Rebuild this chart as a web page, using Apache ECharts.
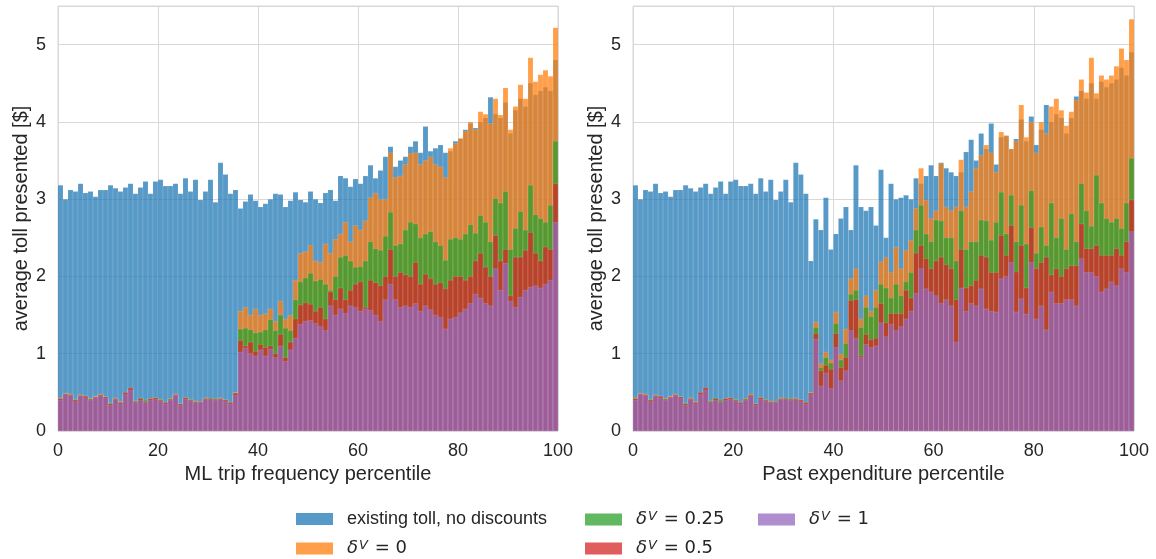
<!DOCTYPE html>
<html><head><meta charset="utf-8">
<script src="https://cdn.jsdelivr.net/npm/echarts/dist/echarts.min.js"></script>
<style>html,body{margin:0;padding:0;background:#fff}#c{width:1156px;height:559px}</style>
</head><body><div id="c"></div><script>
// percentile bins (width 1)
var binStart = Array.from({length: 100}, function (_, i) { return i; });
var xTicks = [0, 20, 40, 60, 80, 100];
var yTicks = [0, 1, 2, 3, 4, 5];
var seriesNames = ['existing toll, no discounts', 'δV = 0', 'δV = 0.25', 'δV = 0.5', 'δV = 1'];

// bins 0-34 (identical in both panels)
var lowBlue   = [3.18,3.0,3.12,3.1,3.2,3.08,3.1,3.03,3.12,3.12,3.18,3.14,3.1,3.15,3.2,3.07,3.15,3.23,3.07,3.23,3.25,3.17,3.17,3.2,3.07,3.27,3.1,3.25,2.99,3.1,3.25,2.96,3.47,3.32,3.07];
var lowOrange = [0.43,0.49,0.48,0.41,0.47,0.45,0.42,0.45,0.48,0.44,0.36,0.43,0.38,0.49,0.55,0.39,0.42,0.39,0.42,0.43,0.41,0.37,0.42,0.48,0.35,0.43,0.41,0.39,0.38,0.43,0.42,0.41,0.43,0.40,0.37];
var lowGreen  = [0.42,0.48,0.47,0.41,0.46,0.45,0.42,0.44,0.47,0.44,0.36,0.42,0.37,0.49,0.55,0.39,0.43,0.40,0.42,0.43,0.41,0.37,0.42,0.47,0.35,0.43,0.41,0.38,0.38,0.42,0.43,0.42,0.42,0.40,0.37];
var lowRed    = [0.42,0.48,0.47,0.40,0.46,0.45,0.41,0.44,0.47,0.44,0.35,0.42,0.37,0.50,0.56,0.38,0.42,0.38,0.42,0.43,0.40,0.37,0.41,0.47,0.35,0.43,0.40,0.38,0.38,0.42,0.42,0.41,0.42,0.40,0.37];
var lowPurple = [0.40,0.47,0.46,0.38,0.45,0.43,0.40,0.43,0.46,0.42,0.33,0.41,0.35,0.47,0.53,0.37,0.40,0.37,0.40,0.41,0.39,0.35,0.40,0.46,0.33,0.41,0.39,0.37,0.37,0.41,0.41,0.40,0.41,0.38,0.35];

// left panel, bins 35-99 (ML trip frequency)
var tripBlueHi   = [3.12,2.88,2.97,3.06,2.98,2.9,2.94,3.0,3.07,3.06, 2.9,2.98,3.09,2.99,2.96,3.1,3.0,2.95,3.08,3.12, 2.98,3.3,3.27,3.16,3.26,3.2,3.3,3.44,3.27,3.37, 3.55,3.68,3.42,3.5,3.55,3.68,3.75,3.6,3.94,3.62, 3.66,3.7,3.6,3.62,3.75,3.78,3.9,3.98,3.92,4.0, 4.05,4.32,4.1,4.05,4.25,3.85,4.15,4.3,4.2,4.5, 4.35,4.4,4.45,4.4,4.8];
var tripOrangeHi = [0.5,1.55,1.6,1.5,1.58,1.5,1.52,1.58,1.42,1.68, 1.45,1.5,1.95,2.3,2.32,2.4,2.2,2.18,2.42,2.3, 2.48,2.55,2.7,2.45,2.66,2.6,2.72,3.02,3.08,3.0, 3.0,3.6,3.28,3.3,3.45,3.59,3.6,3.45,3.5,3.55, 3.45,3.42,3.28,3.66,3.72,3.79,3.88,4.0,3.9,4.13, 4.1,3.98,4.3,4.09,4.44,3.9,4.2,4.48,4.3,4.83, 4.52,4.61,4.67,4.59,5.22];
var tripGreenHi  = [0.49,1.32,1.33,1.31,1.27,1.28,1.31,1.44,1.3,1.5, 1.33,1.3,1.7,1.93,1.98,2.04,1.94,1.96,1.9,1.82, 2.0,2.25,2.27,2.2,2.12,2.13,2.2,2.45,2.36,2.34, 2.52,2.83,2.4,2.42,2.6,2.7,2.68,2.5,2.55,2.58, 2.45,2.4,2.21,2.48,2.5,2.48,2.55,2.67,2.56,2.79, 2.7,2.45,3.01,2.95,3.1,2.35,2.62,2.84,2.6,3.18, 2.8,2.75,2.7,2.92,3.75];
var tripRedHi    = [0.49,1.17,1.1,1.15,1.03,1.12,1.08,1.1,1.0,1.25, 0.95,1.15,1.45,1.63,1.66,1.64,1.55,1.6,1.45,1.8, 1.7,1.85,1.7,1.82,1.9,1.93,1.6,1.95,1.92,1.88, 2.0,2.35,2.0,2.05,2.02,2.0,2.18,1.9,2.03,1.97, 1.9,1.92,1.84,1.95,2.0,2.0,1.95,2.0,2.2,2.3, 2.12,2.0,2.53,2.2,2.35,1.75,2.25,2.25,2.34,2.57, 2.3,2.2,2.38,2.35,3.2];
var tripPurpleHi = [0.46,1.02,1.07,1.0,0.97,1.05,0.97,1.06,0.95,1.1, 0.9,1.05,1.2,1.38,1.42,1.43,1.39,1.35,1.3,1.62, 1.5,1.58,1.52,1.62,1.6,1.55,1.58,1.56,1.5,1.42, 1.7,1.9,1.7,1.6,1.62,1.6,1.65,1.55,1.62,1.57, 1.5,1.47,1.32,1.45,1.47,1.53,1.58,1.65,1.77,1.72, 1.65,1.62,2.1,1.82,2.17,1.68,1.6,1.73,1.82,1.86, 1.88,1.85,1.9,1.95,2.7];

// right panel, bins 35-99 (past expenditure)
var expBlueHi   = [2.2,2.74,2.6,3.02,2.35,2.55,2.75,2.9,2.6,3.44, 2.9,2.85,2.9,2.66,3.38,2.5,3.2,3.0,3.02,3.05, 3.0,3.27,3.2,3.3,3.44,3.3,3.47,3.4,3.35,3.3, 3.35,3.61,3.77,3.5,3.85,3.65,3.98,3.45,3.8,3.82, 3.65,3.78,4.03,3.75,4.07,3.7,3.9,4.22,4.0,4.1, 4.05,3.85,4.05,4.33,4.4,4.3,4.5,4.3,4.52,4.45, 4.5,4.55,4.7,4.6,4.9];
var expOrangeHi = [0.5,1.41,0.87,1.02,0.92,1.54,1.0,1.32,1.97,2.1, 1.45,1.75,1.55,1.82,2.19,2.25,2.05,2.38,2.1,2.34, 2.47,2.88,3.4,2.99,2.75,2.85,3.46,2.9,2.85,2.9, 3.51,2.9,3.1,3.4,3.57,3.7,3.6,3.35,3.87,3.82, 3.65,3.75,4.22,3.8,4.0,3.6,4.0,3.85,4.2,4.3, 4.15,3.95,4.13,4.28,4.55,4.38,4.83,4.37,4.6,4.55, 4.6,4.72,4.95,4.8,5.33];
var expGreenHi  = [0.49,1.34,0.82,0.95,0.88,1.39,0.92,1.13,1.77,1.82, 1.34,1.6,1.48,1.6,1.9,1.85,1.72,1.9,1.75,1.93, 2.05,2.6,2.92,2.55,2.45,2.73,2.72,2.5,2.5,2.2, 2.85,2.35,2.45,2.45,2.73,2.72,2.47,2.7,3.09,2.55, 3.05,2.45,2.92,2.42,3.11,2.3,2.64,2.4,2.95,2.5, 2.75,2.35,2.81,2.45,3.2,2.85,2.65,3.31,2.95,2.75, 2.7,2.75,2.62,2.95,3.53];
var expRedHi    = [0.49,1.26,0.78,0.85,0.8,1.26,0.82,0.95,1.69,1.7, 0.97,1.25,1.18,1.2,1.65,1.4,1.52,1.52,1.52,1.82, 1.72,2.3,2.4,2.23,2.1,2.2,2.25,2.15,2.1,1.7, 2.35,1.85,1.88,1.95,2.27,2.25,2.05,2.05,2.53,2.27, 2.66,2.06,2.4,1.85,2.63,2.1,2.18,2.25,2.02,2.1, 2.0,2.1,2.14,2.14,2.68,2.36,2.36,2.4,2.27,2.27, 2.27,2.36,2.27,2.45,2.99];
var expPurpleHi = [0.47,1.19,0.58,0.75,0.55,1.08,0.65,0.78,1.3,1.2, 0.95,1.12,1.08,1.1,1.4,1.22,1.38,1.3,1.35,1.45, 1.55,1.78,2.1,1.84,1.8,1.75,1.65,1.7,1.62,1.15, 1.85,1.55,1.65,1.62,1.84,1.58,1.55,1.54,1.97,2.0, 2.18,1.54,1.71,1.51,2.18,1.45,1.62,1.31,1.8,1.65, 1.65,1.7,1.7,1.62,2.23,2.05,2.05,2.0,1.8,1.84, 1.93,1.88,2.1,2.05,2.58];

var panels = [
  { xName: 'ML trip frequency percentile',
    values: [lowBlue.concat(tripBlueHi), lowOrange.concat(tripOrangeHi), lowGreen.concat(tripGreenHi), lowRed.concat(tripRedHi), lowPurple.concat(tripPurpleHi)] },
  { xName: 'Past expenditure percentile',
    values: [lowBlue.concat(expBlueHi), lowOrange.concat(expOrangeHi), lowGreen.concat(expGreenHi), lowRed.concat(expRedHi), lowPurple.concat(expPurpleHi)] }
];

var colors = ['rgba(31,119,180,0.75)', 'rgba(255,127,14,0.75)', 'rgba(44,160,44,0.75)', 'rgba(214,39,40,0.75)', 'rgba(148,103,189,0.75)'];
var textColor = '#262626';
var gridColor = '#d8d8d8';
var sans = '"Liberation Sans", Arial, sans-serif';

function renderItem(params, api) {
  var a = api.coord([api.value(0), api.value(2)]);
  var b = api.coord([api.value(1), 0]);
  return {
    type: 'rect',
    shape: { x: a[0], y: a[1], width: b[0] - a[0], height: b[1] - a[1] },
    style: { fill: api.visual('color'), stroke: 'rgba(255,255,255,0.25)', lineWidth: 0.5 }
  };
}

var grids = [
  { left: 58, top: 6, width: 500, height: 425, show: true, borderColor: gridColor, borderWidth: 1 },
  { left: 633, top: 6, width: 501, height: 425, show: true, borderColor: gridColor, borderWidth: 1 }
];

var xAxes = [], yAxes = [], series = [];
panels.forEach(function (p, pi) {
  xAxes.push({
    gridIndex: pi, type: 'value', min: xTicks[0], max: xTicks[xTicks.length - 1], interval: xTicks[1] - xTicks[0],
    name: p.xName, nameLocation: 'middle', nameGap: 29,
    nameTextStyle: { fontSize: 20, color: textColor, fontFamily: sans },
    axisLine: { show: false }, axisTick: { show: false },
    axisLabel: { fontSize: 18, color: textColor, fontFamily: sans, margin: 11 },
    splitLine: { show: true, lineStyle: { color: gridColor, width: 1 } }
  });
  yAxes.push({
    gridIndex: pi, type: 'value', min: yTicks[0], max: 5.5, interval: yTicks[1] - yTicks[0],
    name: 'average toll presented [$]', nameLocation: 'middle', nameGap: 27,
    nameTextStyle: { fontSize: 20, color: textColor, fontFamily: sans },
    axisLine: { show: false }, axisTick: { show: false },
    axisLabel: { fontSize: 18, color: textColor, fontFamily: sans, margin: 12, showMaxLabel: false },
    splitLine: { show: true, lineStyle: { color: gridColor, width: 1 } }
  });
  p.values.forEach(function (vals, si) {
    series.push({
      type: 'custom', name: seriesNames[si], xAxisIndex: pi, yAxisIndex: pi,
      renderItem: renderItem, clip: true, silent: true,
      itemStyle: { color: colors[si] },
      encode: { x: [0, 1], y: 2 },
      data: binStart.map(function (s, i) { return [s, s + 1, vals[i]]; })
    });
  });
});

function legendFmt(name) {
  if (name.indexOf('δV') === 0) {
    return '{g|}{d|δ}{s|V}{m|' + name.slice(2) + '}';
  }
  return '{g|}{t|' + name + '}';
}
var rich = {
  g: { width: 9, lineHeight: 22 },
  t: { fontSize: 18, fontFamily: sans, color: textColor, lineHeight: 22 },
  d: { fontSize: 18, fontFamily: '"DejaVu Sans"', fontStyle: 'italic', color: textColor, lineHeight: 22 },
  s: { fontSize: 13, fontFamily: '"DejaVu Sans"', fontStyle: 'italic', color: textColor, lineHeight: 16, padding: [0, 1, 6, 1] },
  m: { fontSize: 18, fontFamily: '"DejaVu Sans"', color: textColor, lineHeight: 22 }
};
function mkLegend(left, top, name) {
  return {
    left: left, top: top, orient: 'horizontal', itemWidth: 37, itemHeight: 12,
    icon: 'rect', data: [name], selectedMode: false, formatter: legendFmt, padding: 0,
    textStyle: { rich: rich, color: textColor }, itemStyle: { borderWidth: 0 }
  };
}

var chart = echarts.init(document.getElementById('c'), null, { renderer: 'canvas' });
chart.setOption({
  animation: false,
  backgroundColor: '#ffffff',
  grid: grids, xAxis: xAxes, yAxis: yAxes, series: series,
  legend: [
    mkLegend(296, 510, seriesNames[0]),
    mkLegend(296, 539, seriesNames[1]),
    mkLegend(585, 510, seriesNames[2]),
    mkLegend(585, 539, seriesNames[3]),
    mkLegend(758, 510, seriesNames[4])
  ]
});
</script></body></html>
